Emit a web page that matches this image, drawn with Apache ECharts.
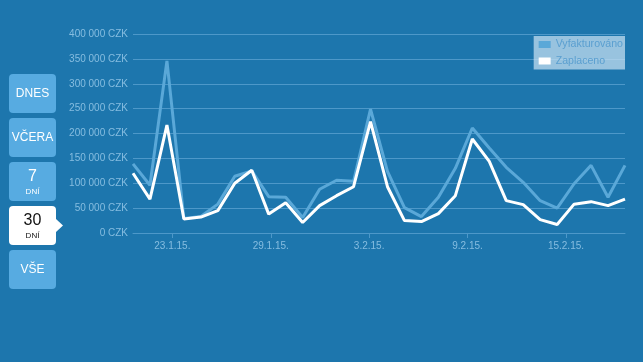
<!DOCTYPE html>
<html><head><meta charset="utf-8">
<script src="https://cdn.jsdelivr.net/npm/echarts@6/dist/echarts.min.js"></script>
<style>html,body{margin:0;padding:0;background:#1d76ad;}#c{width:643px;height:362px;}</style>
</head><body><div id="c"></div>
<script>
const yTicks = [0, 50000, 100000, 150000, 200000, 250000, 300000, 350000, 400000];
const xTickPos = [2.32, 8.12, 13.92, 19.72, 25.52];
const xTickLabels = ['23.1.15.', '29.1.15.', '3.2.15.', '9.2.15.', '15.2.15.'];
const vyfakturovano = [139000, 96000, 346000, 29000, 33000, 58000, 114000, 125000, 73000, 72000, 31000, 88000, 106000, 104000, 249000, 124000, 51000, 33000, 72000, 130000, 211000, 171000, 132000, 102000, 65000, 50000, 99000, 136000, 72000, 136000];
const zaplaceno = [120000, 68000, 217000, 28000, 32000, 45000, 100000, 126000, 38000, 61000, 21000, 55000, 75000, 93000, 224000, 93000, 25000, 23000, 39000, 75000, 189000, 144000, 65000, 57000, 27000, 17000, 58000, 63000, 55000, 68000];
const buttons = ['DNES', 'VČERA', '7|DNÍ', '30|DNÍ', 'VŠE'];

const fmt = v => (v === 0 ? '0' : String(v).replace(/\B(?=(\d{3})+(?!\d))/g, ' ')) + ' CZK';
const chart = echarts.init(document.getElementById('c'));
const btnTop = [74, 118, 162, 206, 250];
const graphics = [];
buttons.forEach((b, i) => {
  const active = i === 3;
  const parts = b.split('|');
  const fill = active ? '#ffffff' : '#57abe1';
  const col = active ? '#111111' : '#ffffff';
  graphics.push({type: 'rect', left: 9, top: btnTop[i], shape: {width: 47, height: 39, r: 4}, style: {fill: fill}});
  if (active) {
    graphics.push({type: 'polygon', shape: {points: [[56, 219], [63, 225.5], [56, 232]]}, style: {fill: '#ffffff'}});
  }
  if (parts.length === 1) {
    graphics.push({type: 'text', x: 32.5, y: btnTop[i] + 19.5, style: {text: parts[0], fill: col, font: '12px "Liberation Sans", Arial, sans-serif', align: 'center', verticalAlign: 'middle'}});
  } else {
    graphics.push({type: 'text', x: 32.5, y: btnTop[i] + 14.5, style: {text: parts[0], fill: col, font: '16px "Liberation Sans", Arial, sans-serif', align: 'center', verticalAlign: 'middle'}});
    graphics.push({type: 'text', x: 32.5, y: btnTop[i] + 30, style: {text: parts[1], fill: col, font: '8px "Liberation Sans", Arial, sans-serif', align: 'center', verticalAlign: 'middle'}});
  }
});

chart.setOption({
  backgroundColor: '#1d76ad',
  animation: false,
  grid: {left: 133, right: 18, top: 34, bottom: 129},
  legend: {
    right: 18, top: 36, orient: 'vertical', itemGap: 5.5, itemWidth: 12, itemHeight: 7,
    backgroundColor: 'rgba(200,225,242,0.72)', padding: [3, 2, 3, 5], borderRadius: 0,
    textStyle: {color: '#5a9fd0', fontSize: 10.6, fontFamily: '"Liberation Sans", Arial, sans-serif'},
    icon: 'rect',
    data: [{name: 'Vyfakturováno', itemStyle: {color: '#5aa8d8'}}, {name: 'Zaplaceno', itemStyle: {color: '#ffffff'}}]
  },
  xAxis: {
    type: 'value', min: 0, max: 29,
    splitLine: {show: false},
    axisLine: {show: true, lineStyle: {color: '#4d98c9', width: 1}},
    axisTick: {show: true, customValues: xTickPos, length: 5, lineStyle: {color: '#4d98c9'}},
    axisLabel: {customValues: xTickPos, color: '#86bde0', fontSize: 10, fontFamily: '"Liberation Sans", Arial, sans-serif', margin: 8,
      formatter: v => { const k = xTickPos.findIndex(p => Math.abs(p - v) < 0.01); return k >= 0 ? xTickLabels[k] : ''; }}
  },
  yAxis: {
    type: 'value', min: 0, max: 400000, interval: 50000,
    axisLine: {show: false}, axisTick: {show: false},
    splitLine: {lineStyle: {color: '#4d98c9', width: 1}},
    axisLabel: {color: '#86bde0', fontSize: 10, fontFamily: '"Liberation Sans", Arial, sans-serif', margin: 5, formatter: v => fmt(v)}
  },
  graphic: graphics,
  series: [
    {name: 'Vyfakturováno', type: 'line', data: vyfakturovano.map((v, i) => [i, v]), symbol: 'none', lineStyle: {color: '#5aa8d8', width: 3}, itemStyle: {color: '#5aa8d8'}},
    {name: 'Zaplaceno', type: 'line', data: zaplaceno.map((v, i) => [i, v]), symbol: 'none', lineStyle: {color: '#ffffff', width: 3}, itemStyle: {color: '#ffffff'}}
  ]
});
</script></body></html>
